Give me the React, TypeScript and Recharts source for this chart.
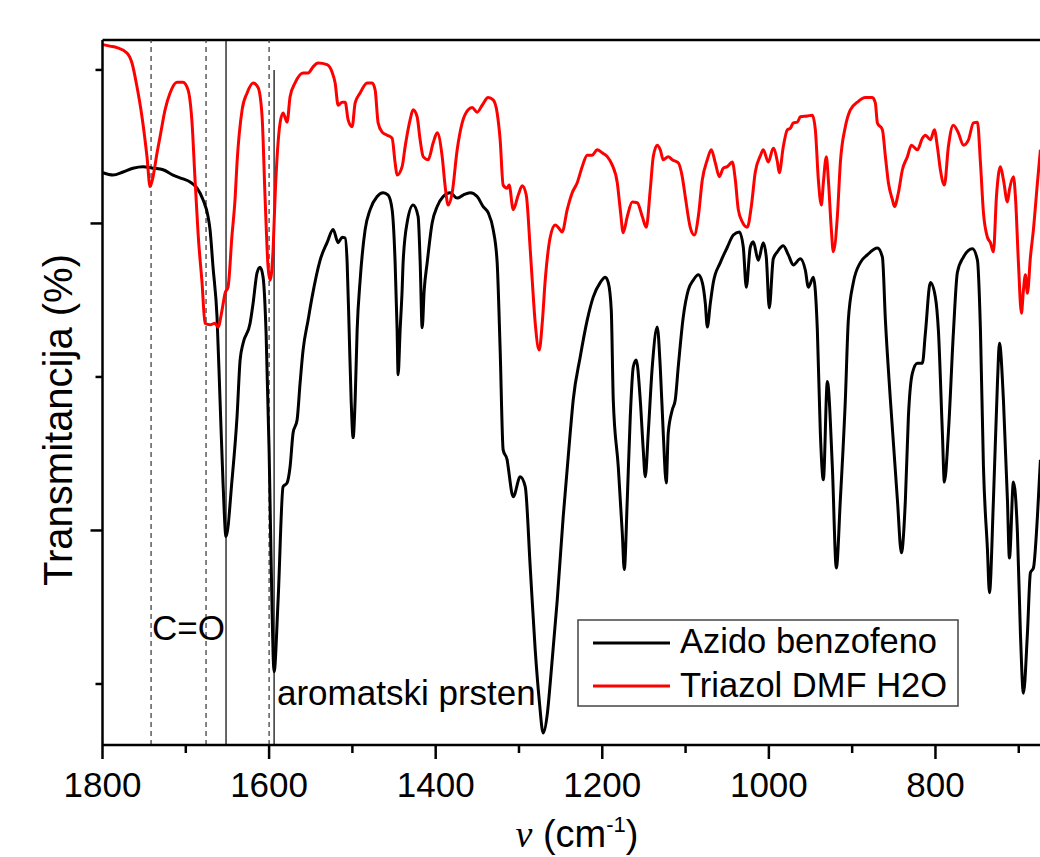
import React from "react";
import { LineChart, Line, XAxis, YAxis, ReferenceLine } from "recharts";

// Wavenumber (cm^-1) and transmittance values
const azidoWn = [1799.4,1787.4,1775.4,1763.4,1751.4,1739.3,1727.3,1715.3,1703.3,1694.9,1686.5,1679.3,1673.3,1670.9,1667.3,1662.5,1658.9,1655.3,1651.7,1644.5,1638.5,1634.8,1631.2,1622.8,1619.2,1614.4,1610.8,1607.2,1603.6,1600.0,1597.6,1594.0,1589.2,1583.2,1578.4,1574.8,1571.2,1566.4,1562.8,1559.2,1553.2,1548.4,1538.8,1530.4,1523.1,1517.1,1512.3,1508.7,1506.3,1503.9,1501.5,1499.1,1496.7,1494.3,1490.7,1484.7,1478.7,1470.3,1463.1,1457.1,1452.3,1448.7,1446.3,1445.1,1442.7,1440.3,1439.1,1434.3,1427.1,1421.1,1418.7,1416.2,1413.8,1410.2,1404.2,1398.2,1391.0,1382.6,1374.2,1367.0,1358.6,1350.2,1343.0,1337.0,1331.0,1326.2,1322.6,1319.0,1314.2,1313.0,1306.9,1298.5,1292.5,1286.5,1280.5,1275.7,1270.9,1266.1,1262.5,1254.1,1246.9,1238.5,1234.9,1226.5,1218.1,1210.9,1202.5,1196.4,1192.8,1189.2,1186.8,1180.8,1176.0,1173.6,1170.0,1166.4,1162.8,1159.2,1154.4,1150.8,1148.4,1144.8,1140.0,1134.0,1130.4,1126.8,1123.2,1120.8,1116.0,1112.4,1108.8,1102.8,1096.8,1090.8,1084.7,1079.9,1076.3,1073.9,1070.3,1066.7,1058.3,1049.9,1042.7,1035.5,1030.7,1027.1,1022.3,1018.7,1012.7,1006.7,1003.1,999.5,994.7,989.9,982.7,976.6,970.6,962.2,956.2,952.6,946.6,941.8,938.2,934.6,929.8,923.8,919.0,914.2,908.2,904.6,898.6,890.2,881.8,869.7,863.7,860.1,854.1,845.7,840.9,836.1,832.5,827.7,821.7,815.7,812.1,806.1,800.1,796.5,791.7,789.3,784.5,778.5,773.7,766.5,755.6,749.6,746.0,742.4,737.6,735.2,730.4,725.6,723.2,718.4,713.6,711.2,706.4,701.6,698.0,694.4,689.6,686.0,682.4,677.6,674.0];
const azidoT = [86.6,86.3,86.7,87.2,87.4,87.2,87.0,86.3,85.8,85.4,84.6,83.1,80.9,79.2,74.3,67.8,57.0,46.2,39.2,46.6,54.8,62.2,64.4,67.0,69.6,73.6,74.3,73.0,65.7,50.5,36.2,21.6,30.9,45.7,46.2,48.3,52.7,54.4,59.2,63.5,67.4,70.4,75.2,77.5,79.2,77.5,78.2,78.1,74.9,66.1,57.0,52.1,57.0,66.1,72.6,79.2,81.8,83.5,84.0,83.7,81.8,74.9,66.1,60.3,66.1,71.3,74.9,80.1,82.4,80.9,75.2,66.4,71.3,74.9,80.1,82.2,83.5,84.0,83.3,83.7,84.0,83.5,82.2,81.4,79.2,74.9,63.5,50.5,49.2,48.3,44.4,47.0,45.7,35.2,24.4,17.9,13.6,16.0,20.1,30.9,41.8,52.7,57.0,62.6,67.4,70.4,72.3,73.0,72.3,68.7,57.0,48.3,39.7,34.9,44.0,54.8,61.3,62.2,57.0,50.5,47.0,52.7,61.3,66.5,61.3,52.7,46.2,52.7,55.7,57.0,61.3,67.8,71.3,72.6,73.3,72.3,69.6,66.5,69.6,72.3,74.9,76.9,78.5,78.9,76.9,71.7,76.9,77.6,75.2,77.5,75.6,69.0,75.4,76.3,77.1,75.9,74.6,75.4,73.9,71.7,73.0,66.1,52.7,46.6,59.4,48.3,35.1,44.0,57.0,67.4,72.3,74.9,75.9,76.8,75.6,67.4,57.0,44.0,37.1,44.0,54.8,60.5,61.8,61.8,65.7,72.3,70.4,66.1,52.7,46.3,52.7,65.7,73.6,75.6,76.7,75.2,66.1,48.3,37.5,31.9,44.0,59.2,64.4,57.0,44.0,36.4,46.3,39.7,26.6,18.8,26.6,34.5,35.1,41.8,49.2];

const triazolWn = [1799.4,1791.0,1782.6,1770.6,1764.6,1758.6,1752.6,1746.6,1742.9,1739.3,1734.5,1730.9,1724.9,1718.9,1710.5,1703.3,1697.3,1692.5,1688.9,1686.5,1685.3,1680.5,1676.9,1670.9,1664.9,1661.3,1656.5,1652.9,1649.3,1644.5,1640.9,1638.5,1632.4,1626.4,1619.2,1613.2,1608.4,1604.8,1601.2,1598.8,1595.2,1592.8,1586.8,1583.2,1578.4,1574.8,1568.8,1559.2,1553.2,1547.2,1541.2,1530.4,1524.3,1520.7,1517.1,1512.3,1508.7,1505.1,1500.3,1496.7,1490.7,1482.3,1476.3,1472.7,1469.1,1464.3,1458.3,1452.3,1448.7,1446.3,1440.3,1436.7,1430.7,1427.1,1422.3,1418.7,1415.0,1409.0,1403.0,1398.2,1392.2,1388.6,1385.0,1380.2,1374.2,1368.2,1361.0,1356.2,1350.2,1344.2,1337.0,1331.0,1326.2,1322.6,1319.0,1314.2,1311.8,1306.9,1300.9,1296.1,1291.3,1286.5,1284.1,1280.5,1275.7,1272.1,1268.5,1262.5,1256.5,1252.9,1248.1,1242.1,1236.1,1230.1,1224.1,1218.1,1212.1,1206.1,1200.1,1194.0,1188.0,1182.0,1178.4,1174.8,1170.0,1164.0,1158.0,1152.0,1147.2,1142.4,1138.8,1134.0,1130.4,1126.8,1120.8,1116.0,1108.8,1104.0,1100.4,1094.4,1089.5,1084.7,1079.9,1073.9,1069.1,1064.3,1059.5,1054.7,1049.9,1043.9,1040.3,1036.7,1031.9,1025.9,1021.1,1016.3,1010.3,1006.7,1000.7,994.7,989.9,987.5,982.7,977.8,974.2,970.6,965.8,962.2,953.8,947.8,944.2,940.6,937.0,934.6,931.0,928.6,925.0,922.6,917.8,914.2,908.2,902.2,893.8,884.2,875.8,872.2,869.7,863.7,860.1,856.5,851.7,849.3,844.5,839.7,833.7,828.9,821.7,815.7,812.1,806.1,801.3,797.7,794.1,789.3,784.5,778.5,772.5,766.5,760.4,754.4,749.6,746.0,742.4,737.6,734.0,730.4,726.8,722.0,718.4,713.6,711.2,706.4,704.0,700.4,696.8,694.4,692.0,689.6,686.0,682.4,677.6,674.0];
const triazolT = [103.3,103.1,102.9,102.2,100.9,97.8,93.9,88.7,84.8,86.1,89.2,91.3,94.8,97.0,98.4,98.4,97.4,93.1,85.7,81.1,78.8,72.3,67.0,66.8,67.0,66.5,68.7,70.9,71.7,78.5,83.1,87.9,94.8,97.0,98.3,97.7,93.9,83.3,74.3,72.6,76.6,83.5,93.1,94.4,93.2,96.5,98.3,99.6,99.6,100.4,100.9,100.7,99.7,98.3,95.4,95.8,95.8,93.5,92.6,95.7,97.0,98.3,98.3,97.4,93.1,91.9,91.5,91.1,87.9,86.3,87.4,90.0,93.5,94.8,93.9,90.9,88.7,88.3,90.5,91.8,88.7,84.8,82.4,84.0,89.6,93.1,94.8,95.1,94.5,95.4,96.4,96.1,94.4,90.9,85.0,84.6,85.0,81.8,83.7,84.9,83.7,76.6,72.6,67.0,63.5,67.0,72.6,78.2,79.8,79.5,78.9,81.8,84.0,85.3,87.4,88.9,88.9,89.6,89.2,88.7,87.6,85.3,81.8,78.8,80.9,82.8,82.7,80.9,79.5,84.4,88.7,90.2,89.6,88.3,88.7,88.3,87.9,86.1,83.5,79.5,78.5,80.9,85.7,88.3,89.6,87.9,86.1,87.2,87.4,88.0,85.7,81.8,80.2,79.5,82.2,86.7,88.8,89.6,88.0,89.8,88.1,86.6,90.0,92.2,92.4,93.1,93.2,93.9,94.0,94.1,92.2,85.7,82.4,85.3,88.7,85.7,79.2,76.3,80.9,87.9,92.6,94.8,95.8,96.4,96.4,95.7,93.1,92.2,88.7,85.3,83.1,82.2,84.0,87.0,88.7,90.2,89.6,91.1,91.5,90.9,92.2,90.0,87.0,85.0,90.0,92.8,91.8,90.2,90.9,93.1,93.2,87.9,81.4,78.2,77.5,76.3,83.5,87.4,85.7,82.8,84.4,86.1,83.5,74.9,68.3,71.3,73.3,70.9,75.6,79.2,85.3,89.6];

const xTicks = [1800, 1700, 1600, 1500, 1400, 1300, 1200, 1100, 1000, 900, 800, 700];
const xLabeledTicks = [1800, 1600, 1400, 1200, 1000, 800];
const yTicks = [20, 40, 60, 80, 100];
const yMajorTicks = [40, 80];
const xDomain: [number, number] = [674.5, 1800];
const yDomain: [number, number] = [12.05, 103.9];

const dashedMarkers = [1741.7, 1675.7, 1600.0];
const solidMarker = 1651.7;
const aromaticMarker = 1594.0;

const seriesNames = ["Azido benzofeno", "Triazol DMF H2O"];
const seriesColors = ["#000000", "#ff0000"];

const azidoData = azidoWn.map((wn, i) => ({ wn, t: azidoT[i] }));
const triazolData = triazolWn.map((wn, i) => ({ wn, t: triazolT[i] }));

const FONT = "'Liberation Sans', Arial, Helvetica, sans-serif";

const XTick = (props: any) => {
  const { x, y, payload } = props;
  const major = xLabeledTicks.includes(payload.value);
  return (
    <g>
      <line x1={x} x2={x} y1={y} y2={y + (major ? 14 : 8)} stroke="#000" strokeWidth={2.5} />
      {major && (
        <text x={x} y={y + 52} textAnchor="middle" fontSize={35} fontFamily={FONT} fill="#000">
          {payload.value}
        </text>
      )}
    </g>
  );
};

const YTick = (props: any) => {
  const { x, y, payload } = props;
  const major = yMajorTicks.includes(payload.value);
  return <line x1={x} x2={x - (major ? 12 : 7)} y1={y} y2={y} stroke="#000" strokeWidth={2.5} />;
};

export default function App() {
  return (
    <div style={{ position: "relative", width: 1040, height: 857 }}>
      <style>{"html{overflow:hidden} body{margin:0}"}</style>
      <LineChart width={1040} height={857} margin={{ top: 40, right: 0, bottom: 0, left: 0 }}>
        <XAxis
          type="number"
          dataKey="wn"
          domain={xDomain}
          reversed
          allowDataOverflow
          ticks={xTicks}
          interval={0}
          tickLine={false}
          tickSize={0}
          tickMargin={0}
          tick={<XTick />}
          axisLine={{ stroke: "#000", strokeWidth: 2.5 }}
          height={112}
        />
        <YAxis
          type="number"
          domain={yDomain}
          allowDataOverflow
          ticks={yTicks}
          interval={0}
          tickLine={false}
          tickSize={0}
          tickMargin={0}
          tick={<YTick />}
          axisLine={{ stroke: "#000", strokeWidth: 2.5 }}
          width={102.5}
        />
        <ReferenceLine y={yDomain[1]} stroke="#000" strokeWidth={2.5} />
        {dashedMarkers.map((m) => (
          <ReferenceLine key={m} x={m} stroke="#333" strokeWidth={1.2} strokeDasharray="5 4" />
        ))}
        <ReferenceLine x={solidMarker} stroke="#000" strokeWidth={1.2} />
        <ReferenceLine
          segment={[
            { x: aromaticMarker, y: 100 },
            { x: aromaticMarker, y: yDomain[0] },
          ]}
          stroke="#000"
          strokeWidth={1.2}
        />
        <Line
          data={azidoData}
          dataKey="t"
          type="monotone"
          stroke={seriesColors[0]}
          strokeWidth={3}
          dot={false}
          isAnimationActive={false}
        />
        <Line
          data={triazolData}
          dataKey="t"
          type="monotone"
          stroke={seriesColors[1]}
          strokeWidth={3}
          dot={false}
          isAnimationActive={false}
        />
      </LineChart>
      <svg
        width={1040}
        height={857}
        style={{ position: "absolute", left: 0, top: 0, pointerEvents: "none" }}
      >
        <text
          x={72}
          y={420}
          transform="rotate(-90 72 420)"
          textAnchor="middle"
          fontSize={40}
          fontFamily={FONT}
          fill="#000"
        >
          Transmitancija (%)
        </text>
        <text x={577} y={847} textAnchor="middle" fontSize={38} fontFamily={FONT} fill="#000">
          <tspan fontFamily="'Liberation Serif', 'Times New Roman', serif" fontStyle="italic">ν</tspan>
          <tspan> (cm</tspan>
          <tspan dy={-15} fontSize={22}>-1</tspan>
          <tspan dy={15}>)</tspan>
        </text>
        <text x={152} y={640} fontSize={35} fontFamily={FONT} fill="#000">C=O</text>
        <text x={277} y={705} fontSize={35} fontFamily={FONT} fill="#000">aromatski prsten</text>
        <rect x={578} y={620} width={380} height={86} fill="#fff" stroke="#444" strokeWidth={1.5} />
        <line x1={593} x2={670} y1={643} y2={643} stroke={seriesColors[0]} strokeWidth={3} />
        <line x1={593} x2={670} y1={686} y2={686} stroke={seriesColors[1]} strokeWidth={3} />
        <text x={680} y={653} fontSize={34.5} fontFamily={FONT} fill="#000">{seriesNames[0]}</text>
        <text x={680} y={697} fontSize={34.5} fontFamily={FONT} fill="#000">{seriesNames[1]}</text>
      </svg>
    </div>
  );
}
